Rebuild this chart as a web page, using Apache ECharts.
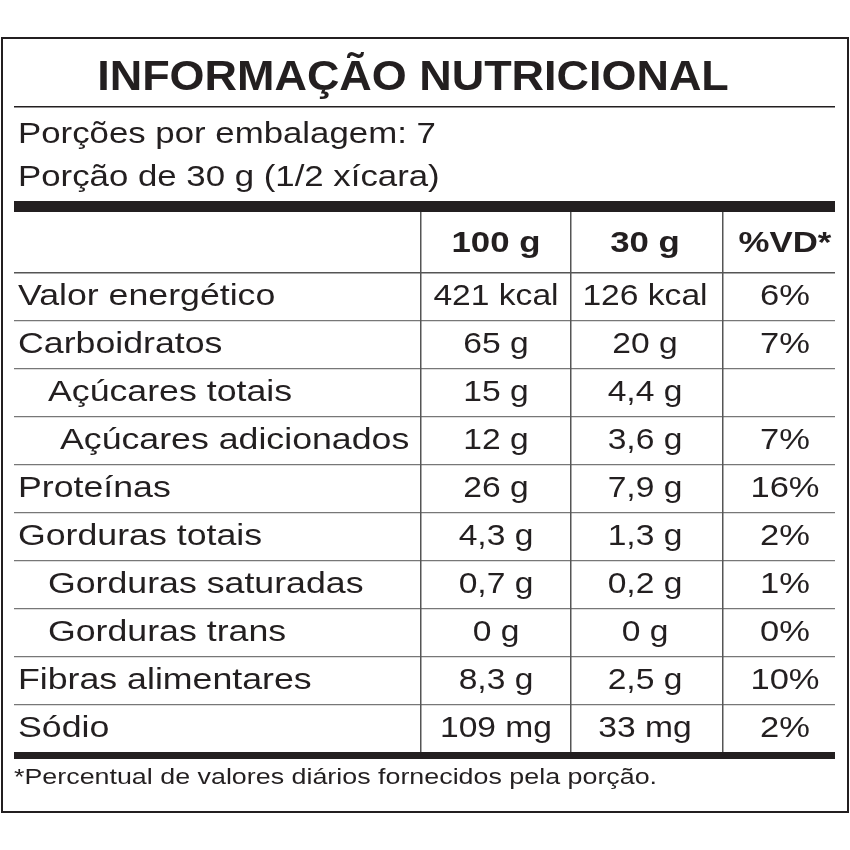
<!DOCTYPE html>
<html><head><meta charset="utf-8">
<script src="https://cdn.jsdelivr.net/npm/echarts@6/dist/echarts.min.js"></script>
<style>html,body{margin:0;background:#fff}#c{width:850px;height:850px}</style>
</head><body><div id="c"></div>
<script>
const title = "INFORMAÇÃO NUTRICIONAL";
const servingLines = ["Porções por embalagem: 7", "Porção de 30 g (1/2 xícara)"];
const headers = ["100 g", "30 g", "%VD*"];
const nutrients = ["Valor energético","Carboidratos","Açúcares totais","Açúcares adicionados","Proteínas","Gorduras totais","Gorduras saturadas","Gorduras trans","Fibras alimentares","Sódio"];
const indentLevel = [0,0,1,2,0,0,1,1,0,0];
const per100 = ["421 kcal","65 g","15 g","12 g","26 g","4,3 g","0,7 g","0 g","8,3 g","109 mg"];
const per30 = ["126 kcal","20 g","4,4 g","3,6 g","7,9 g","1,3 g","0,2 g","0 g","2,5 g","33 mg"];
const vd = ["6%","7%","","7%","16%","2%","1%","0%","10%","2%"];
const footnote = "*Percentual de valores diários fornecidos pela porção.";

const F = "'Liberation Sans', Arial, sans-serif";
const L = 14, R = 835, colX = [420, 570, 722], colC = [496, 645, 785];
const headTop = 212, headBot = 272, rowH = 48;
const els = [];
const txt = (x, y, s, size, opts, sx, weight) => els.push({type:'text', x, y, scaleX: sx||1.2,
  style:Object.assign({text:s, font:`${weight||''} ${size}px ${F}`, fill:'#231f20', textVerticalAlign:'middle'}, opts||{})});
const rect = (x, y, w, h, c) => els.push({type:'rect', shape:{x,y,width:w,height:h}, style:{fill:c||'#231f20'}});

els.push({type:'rect', shape:{x:2,y:38,width:846,height:774}, style:{fill:'none', stroke:'#231f20', lineWidth:2}});
txt(413, 78, title, 42, {textAlign:'center'}, 1.07, 'bold');
rect(L, 106, R-L, 1.5);
servingLines.forEach((s,i)=>txt(18, 135+i*43, s, 29, null, 1.2));
rect(L, 201, R-L, 11);
headers.forEach((h,i)=>txt(colC[i], 244, h, 29, {textAlign:'center'}, 1.2, 'bold'));
rect(L, headBot, R-L, 1.5, '#555');
const indents = [18, 48, 60];
nutrients.forEach((n,i)=>{
  const yc = headBot + rowH*i + rowH/2 + 1;
  txt(indents[indentLevel[i]], yc, n, 30, null, 1.19);
  txt(colC[0], yc, per100[i], 30, {textAlign:'center'}, 1.12);
  txt(colC[1], yc, per30[i], 30, {textAlign:'center'}, 1.12);
  if (vd[i]) txt(colC[2], yc, vd[i], 30, {textAlign:'center'}, 1.15);
  if (i < nutrients.length-1) rect(L, headBot + rowH*(i+1), R-L, 1.2, '#777');
});
const tableBot = headBot + rowH*nutrients.length;
colX.forEach(x=>rect(x, headTop, 1.5, tableBot-headTop, '#555'));
rect(L, tableBot, R-L, 7);
txt(14, 778, footnote, 22, null, 1.22);

const chart = echarts.init(document.getElementById('c'));
chart.setOption({animation:false, graphic:{elements:els}});
</script></body></html>
